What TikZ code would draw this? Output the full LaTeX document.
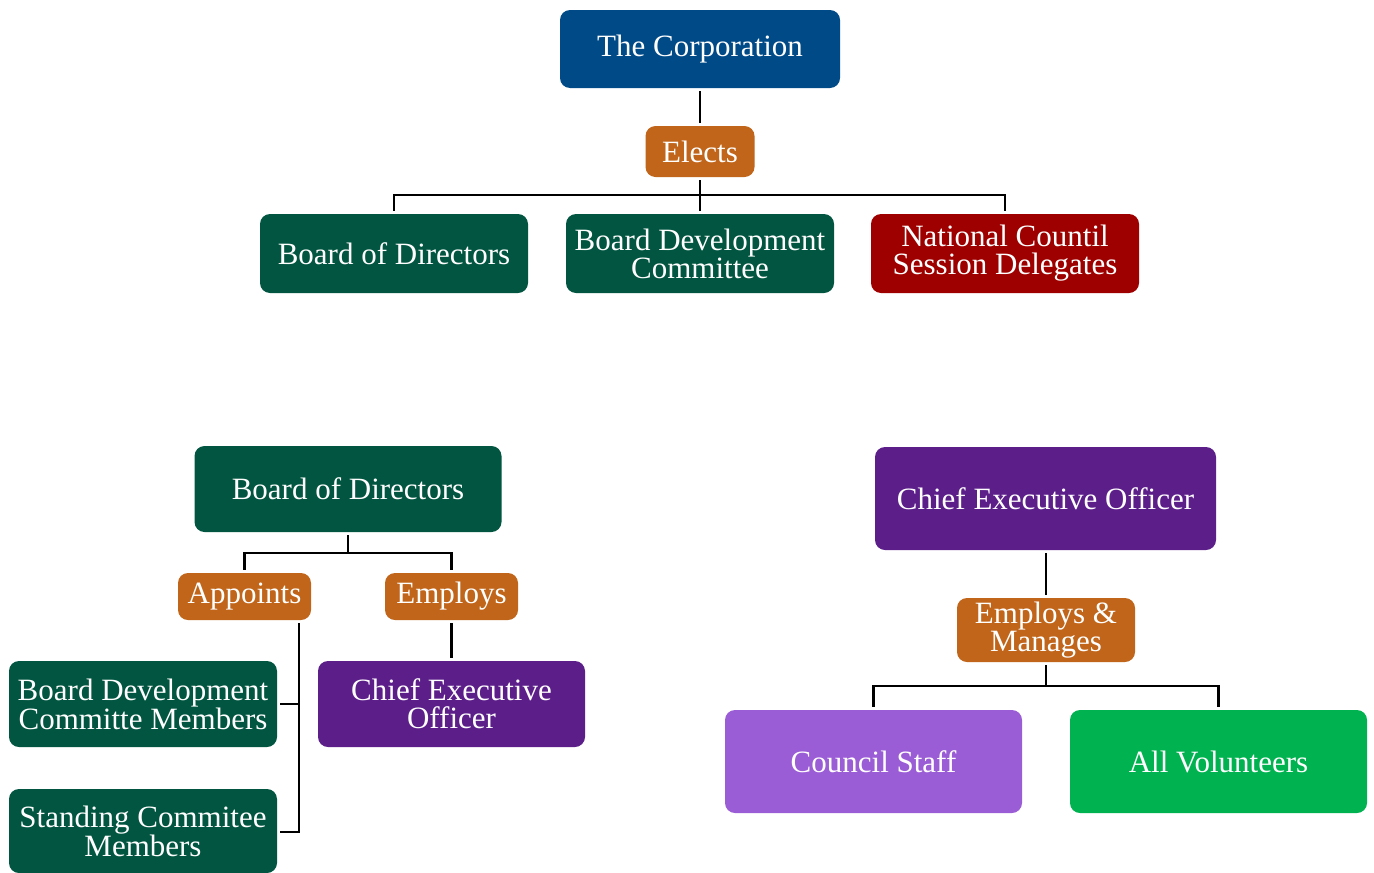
\documentclass[tikz,border=0pt]{standalone}
\usepackage{fontspec}
\setmainfont{Liberation Serif}
\usetikzlibrary{calc}
\definecolor{corpblue}{RGB}{0,74,135}
\definecolor{actorange}{RGB}{192,101,25}
\definecolor{boardgreen}{RGB}{2,85,64}
\definecolor{delegred}{RGB}{158,0,0}
\definecolor{ceopurple}{RGB}{92,31,138}
\definecolor{staffpurple}{RGB}{155,93,214}
\definecolor{volgreen}{RGB}{0,178,80}
\begin{document}
\begin{tikzpicture}[x=1pt,y=-1pt,
  box/.style={rounded corners=10pt, text=white, align=center, inner sep=0pt,
    font=\fontsize{31}{28}\selectfont},
  orgbox/.style={box, fill=#1},
  conn/.style={draw=black, line width=2.4pt, shorten <=3pt, shorten >=3pt},
  connend/.style={draw=black, line width=2.4pt, shorten >=3pt}]
\useasboundingbox (0,0) rectangle (1374,873);

% --- top tree
\node[orgbox=corpblue, minimum width=280pt, minimum height=78pt] (corp) at (700,49) {The Corporation};
\node[orgbox=actorange, minimum width=109pt, minimum height=51pt] (elects) at (700,151.5) {Elects};
\node[orgbox=boardgreen, minimum width=268pt, minimum height=79pt] (bod1) at (394,253.5) {Board of Directors};
\node[orgbox=boardgreen, minimum width=268pt, minimum height=79pt] (bdc) at (700,253.5) {Board Development\\Committee};
\node[orgbox=delegred, minimum width=268pt, minimum height=79pt] (ncsd) at (1005,253.5) {National Countil\\Session Delegates};
\coordinate (j1) at (700,195);
\draw[conn] (corp.south) -- (elects.north);
\draw[conn] (elects.south) -- (j1) -- (bdc.north);
\draw[conn] (bod1.north) |- (j1) -| (ncsd.north);

% --- board of directors tree
\node[orgbox=boardgreen, minimum width=307pt, minimum height=86pt] (bod2) at (348,489) {Board of Directors};
\node[orgbox=actorange, minimum width=133pt, minimum height=47pt] (appoints) at (244.5,596.5) {Appoints};
\node[orgbox=actorange, minimum width=133pt, minimum height=47pt] (employs) at (451.5,596.5) {Employs};
\node[orgbox=ceopurple, minimum width=267pt, minimum height=86pt] (ceo1) at (451.5,704) {Chief Executive\\Officer};
\node[orgbox=boardgreen, minimum width=268pt, minimum height=86pt] (bdcm) at (143,704) {Board Development\\Committe Members};
\node[orgbox=boardgreen, minimum width=268pt, minimum height=84pt] (scm) at (143,831) {Standing Commitee\\Members};
\coordinate (j2) at (348,553);
\draw[connend] (j2) -- (bod2.south);
\draw[conn] (appoints.north) |- (j2) -| (employs.north);
\draw[conn] (employs.south) -- (ceo1.north);
\coordinate (brk) at (299,832);
\draw[conn] (appoints.south -| brk) -- (brk) -- (brk -| scm.east);
\draw[connend] (bdcm.east -| brk) -- (bdcm.east);

% --- chief executive tree
\node[orgbox=ceopurple, minimum width=341pt, minimum height=103pt] (ceo2) at (1045.5,498.5) {Chief Executive Officer};
\node[orgbox=actorange, minimum width=178pt, minimum height=64pt] (em) at (1046,630) {Employs \&\\Manages};
\node[orgbox=staffpurple, minimum width=297pt, minimum height=103pt] (staff) at (873.5,761.5) {Council Staff};
\node[orgbox=volgreen, minimum width=297pt, minimum height=103pt] (vol) at (1218.5,761.5) {All Volunteers};
\coordinate (j3) at (1046,686);
\draw[conn] (ceo2.south -| em) -- (em.north);
\draw[connend] (j3) -- (em.south);
\draw[conn] (staff.north) |- (j3) -| (vol.north);
\end{tikzpicture}
\end{document}
